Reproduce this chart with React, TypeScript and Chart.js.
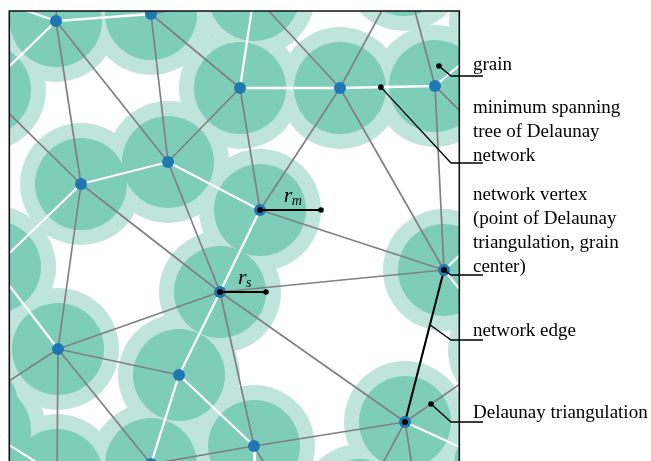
import { useEffect, useRef } from "react";
import { Chart, registerables } from "chart.js";

Chart.register(...registerables);

// ---- data (grain centres / network vertices, in frame units) ----
const vertexX = [56, 151, 240, 168, 81, 340, 435, 260, 220, 58, 179, 151, 444, 405, 254];
const vertexY = [21, 14, 88, 162, 184, 88, 86, 210, 292, 349, 375, 464, 270, 422, 446];
// grain centres just outside the frame (their grains/edges are partly visible)
const outsideX = [-15, -5, 254, 404, -30, 60, 510, 520, 530, 509, 500, 57, -28, -15, 360, 420, 255, 300];
const outsideY = [90, 267, -5, -30, -9, -70, 22, 171, 190, 350, 465, 475, 405, 430, 505, 515, 530, 523];

// Delaunay triangulation edges (vertex index pairs, outside vertices continue at 15)
const delaunayEdges: [number, number][] = [
  [0, 1], [0, 3], [0, 4], [0, 15], [0, 19], [0, 20],
  [1, 2], [1, 3], [1, 17],
  [2, 3], [2, 5], [2, 7], [2, 17],
  [3, 4], [3, 7], [3, 8],
  [4, 8], [4, 9], [4, 15], [4, 16],
  [5, 6], [5, 7], [5, 12], [5, 17], [5, 18],
  [6, 12], [6, 18], [6, 21], [6, 22],
  [7, 8], [7, 12],
  [8, 9], [8, 10], [8, 12], [8, 13], [8, 14],
  [9, 10], [9, 11], [9, 16], [9, 26], [9, 27],
  [10, 11], [10, 14],
  [11, 14],
  [12, 13], [12, 23], [12, 24],
  [13, 14], [13, 24], [13, 25], [13, 29], [13, 30],
  [14, 31], [14, 32],
  [26, 28],
];
// minimum spanning tree edges (subset)
const mstEdges: [number, number][] = [
  [0, 1], [0, 15], [0, 19], [2, 5], [2, 17], [3, 4], [3, 7], [4, 16], [5, 6], [6, 21],
  [7, 8], [8, 10], [9, 16], [10, 11], [10, 14], [12, 23], [12, 24], [13, 25], [14, 31], [26, 28],
];
// highlighted network edge
const networkEdge: [number, number][] = [[12, 13]];
// vertices drawn with a black centre mark
const markedVertices = [7, 8, 12, 13];

// grain radii
const R_S = 46; // solid grain radius
const R_M = 61; // outer (mean) radius

// radius annotations
const radiusVertex = [7, 8];
const radiusLength = [R_M, R_S];
const radiusSub = ["m", "s"];

// legend-style annotations on the right
const labelText: string[][] = [
  ["grain"],
  ["minimum spanning", "tree of Delaunay", "network"],
  ["network vertex", "(point of Delaunay", "triangulation, grain", "center)"],
  ["network edge"],
  ["Delaunay triangulation"],
];
const labelBaseline = [70, 113, 200, 336, 418];
const leaderY = [76, 163, 275, 340, 422];
// leader anchors: [vertexA, vertexB, t] point along an edge (or offset from a grain)
const anchorEdge: [number, number, number][] = [
  [6, 6, 0],
  [5, 6, 0.43],
  [12, 12, 0],
  [12, 13, 0.36],
  [13, 24, 0.25],
];
const anchorOffsetX = [4, 0, 0, 0, 0];
const anchorOffsetY = [-20, 0, 0, 0, 0];
const anchorDot = [true, true, false, false, true];

// ---- styles ----
const FRAME = { left: 9.3, top: 11, right: 459.3, bottom: 461 };
const W = 651;
const H = 461;
const RING = "rgb(191,229,219)";
const DISK = "rgb(125,205,185)";
const BLUE = "#1f77b4";
const GRAY = "#808080";
const TEXT_X = 473;
const LEADER_ELBOW_X = 451;
const LEADER_END_X = 483;
const LINE_GAP = 24;

const allX = [...vertexX, ...outsideX];
const allY = [...vertexY, ...outsideY];
const pt = (i: number) => ({ x: allX[i], y: allY[i] });
const segments = (edges: [number, number][]) =>
  edges.flatMap(([a, b]) => [pt(a), pt(b), { x: null as any, y: null as any }]);

const annotationPlugin = {
  id: "grainAnnotations",
  afterDraw(chart: any) {
    const { ctx, chartArea: a } = chart;
    const xs = chart.scales.x;
    const ys = chart.scales.y;
    const X = (v: number) => xs.getPixelForValue(v);
    const Y = (v: number) => ys.getPixelForValue(v);
    ctx.save();

    // frame
    ctx.strokeStyle = "#111";
    ctx.lineWidth = 1.6;
    ctx.beginPath();
    ctx.moveTo(a.left, a.bottom + 5);
    ctx.lineTo(a.left, a.top);
    ctx.lineTo(a.right, a.top);
    ctx.lineTo(a.right, a.bottom + 5);
    ctx.stroke();

    const dot = (px: number, py: number, r: number) => {
      ctx.beginPath();
      ctx.arc(px, py, r, 0, Math.PI * 2);
      ctx.fillStyle = "#000";
      ctx.fill();
    };

    // radius markers r_m and r_s
    radiusVertex.forEach((v, k) => {
      const cx = allX[v];
      const cy = allY[v];
      const x0 = X(cx);
      const x1 = X(cx + radiusLength[k]);
      const y0 = Y(cy);
      ctx.strokeStyle = "#000";
      ctx.lineWidth = 1.8;
      ctx.beginPath();
      ctx.moveTo(x0, y0);
      ctx.lineTo(x1, y0);
      ctx.stroke();
      dot(x1, y0, 2.8);
      const lx = x0 + radiusLength[k] * 0.39;
      ctx.fillStyle = "#000";
      ctx.font = "italic 22px 'Liberation Serif'";
      ctx.textBaseline = "alphabetic";
      ctx.fillText("r", lx, y0 - 8.5);
      ctx.font = "italic 14px 'Liberation Serif'";
      ctx.fillText(radiusSub[k], lx + 8, y0 - 5);
    });

    // leader lines & labels
    labelText.forEach((lines, k) => {
      const [ia, ib, t] = anchorEdge[k];
      const ax = allX[ia] + (allX[ib] - allX[ia]) * t + anchorOffsetX[k];
      const ay = allY[ia] + (allY[ib] - allY[ia]) * t + anchorOffsetY[k];
      const px = X(ax);
      const py = Y(ay);
      ctx.strokeStyle = "#000";
      ctx.lineWidth = 1.3;
      ctx.beginPath();
      ctx.moveTo(px, py);
      ctx.lineTo(LEADER_ELBOW_X, leaderY[k]);
      ctx.lineTo(LEADER_END_X, leaderY[k]);
      ctx.stroke();
      if (anchorDot[k]) dot(px, py, 2.8);
      ctx.fillStyle = "#000";
      ctx.font = "19px 'Liberation Serif'";
      ctx.textBaseline = "alphabetic";
      lines.forEach((s, j) => ctx.fillText(s, TEXT_X, labelBaseline[k] + j * LINE_GAP));
    });

    ctx.restore();
  },
};

export default function App() {
  const ref = useRef<HTMLCanvasElement | null>(null);

  useEffect(() => {
    if (!ref.current) return;
    const n = allX.length;
    const rings = Array.from({ length: n }, (_, i) => ({ x: allX[i], y: allY[i], r: R_M }));
    const disks = Array.from({ length: n }, (_, i) => ({ x: allX[i], y: allY[i], r: R_S }));
    const chart = new Chart(ref.current, {
      type: "scatter",
      data: {
        datasets: [
          { type: "bubble", label: "grain outer", data: rings, backgroundColor: RING, borderWidth: 0, order: 7, clip: 0 } as any,
          { type: "bubble", label: "grain", data: disks, backgroundColor: DISK, borderWidth: 0, order: 6, clip: 0 } as any,
          {
            type: "line", label: "Delaunay triangulation", data: segments(delaunayEdges),
            borderColor: GRAY, borderWidth: 1.7, pointRadius: 0, spanGaps: false, fill: false, order: 5, clip: 0,
          } as any,
          {
            type: "line", label: "minimum spanning tree", data: segments(mstEdges),
            borderColor: "#ffffff", borderWidth: 2.3, pointRadius: 0, spanGaps: false, fill: false, order: 4, clip: 0,
          } as any,
          {
            type: "line", label: "network edge", data: segments(networkEdge),
            borderColor: "#000000", borderWidth: 2, pointRadius: 0, spanGaps: false, fill: false, order: 3, clip: 0,
          } as any,
          {
            type: "scatter", label: "network vertex", data: allX.map((x, i) => ({ x, y: allY[i] })),
            backgroundColor: BLUE, borderWidth: 0, pointRadius: 6, order: 2, clip: 0,
          } as any,
          {
            type: "scatter", label: "marked", data: markedVertices.map((i) => pt(i)),
            backgroundColor: "#000", borderWidth: 0, pointRadius: 3, order: 1, clip: 0,
          } as any,
        ],
      },
      options: {
        animation: false,
        responsive: false,
        events: [],
        layout: {
          autoPadding: false,
          padding: { left: FRAME.left, top: FRAME.top, right: W - FRAME.right, bottom: H - FRAME.bottom },
        },
        scales: {
          x: { type: "linear", min: FRAME.left, max: FRAME.right, display: false },
          y: { type: "linear", min: FRAME.top, max: FRAME.bottom, reverse: true, display: false },
        },
        plugins: { legend: { display: false }, tooltip: { enabled: false } },
      } as any,
      plugins: [annotationPlugin],
    });
    return () => chart.destroy();
  }, []);

  return (
    <div style={{ position: "absolute", left: 0, top: 0, width: W, height: H, background: "#fff" }}>
      <canvas ref={ref} width={W} height={H} style={{ display: "block" }} />
    </div>
  );
}
